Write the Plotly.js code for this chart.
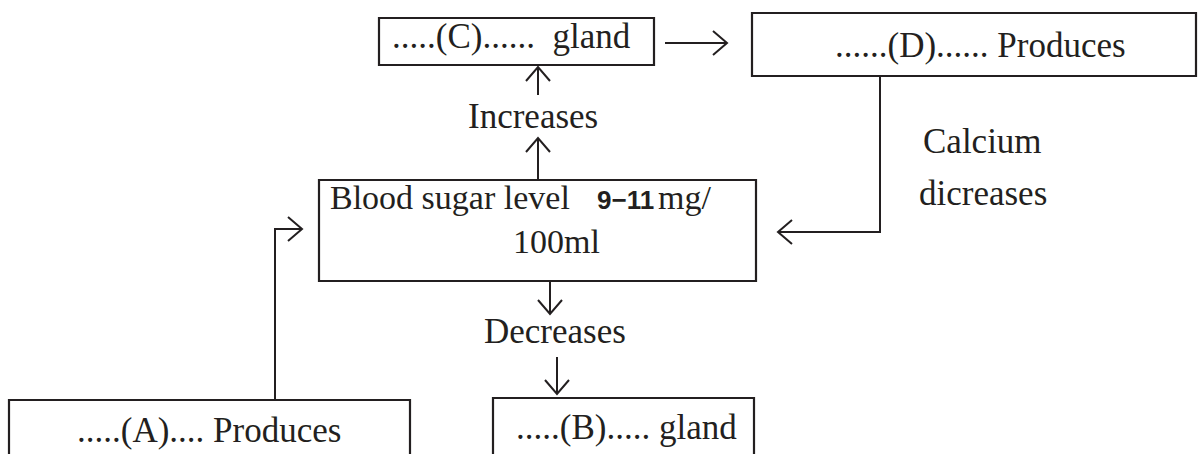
<!DOCTYPE html>
<html>
<head>
<meta charset="utf-8">
<script src="https://cdn.plot.ly/plotly-3.0.1.min.js"></script>
<style>html,body{margin:0;padding:0;background:#fff;}#chart{width:1198px;height:454px;}</style>
</head>
<body>
<div id="chart"></div>
<script>
// ---- content (text of the flow diagram) ----
var boxLabels = ['.....(C)......\u00a0 gland', '......(D)...... Produces', '.....(A).... Produces', '.....(B)..... gland'];
var bloodLabels = ['Blood sugar level', '9\u221211', 'mg/', '100ml'];
var arrowLabels = ['Increases', 'Decreases', 'Calcium', 'dicreases'];

// ---- geometry (pixel-space layout of the diagram) ----
var INK = '#231f20';
var SERIF = 'Liberation Serif, Times New Roman, serif';
var SANS = 'Liberation Sans, Arial, sans-serif';
var FS = 35;
var boxRects = [[379,18,654,65],[752,13,1196,76],[9,400,410,480],[493,398,754,480],[319,180,756,281]];
var boxTextPos = [[511,48],[980,57],[209,442],[626,439]];
var bloodTextPos = [[329,209,'left',SERIF,34],[596,209,'left',SANS,26],[657,209,'left',SERIF,34],[556,253,'center',SERIF,34]];
var arrowTextPos = [[533,128],[555,343],[982,153],[983,205]];
// connector polylines, last point is the arrow tip
var connectors = [
  [[665,43],[727,43]],
  [[880,76],[880,232],[778,232]],
  [[275,400],[275,229],[302,229]],
  [[538,180],[538,138]],
  [[538,95],[538,67]],
  [[550,281],[550,314]],
  [[557,357],[557,394]]
];

var shapes = [];
boxRects.forEach(function(r){
  shapes.push({type:'rect', xref:'x', yref:'y', x0:r[0], y0:r[1], x1:r[2], y1:r[3], line:{color:INK, width:2.2}, fillcolor:'rgba(0,0,0,0)'});
});
connectors.forEach(function(pts){
  var d = 'M' + pts.map(function(p){return p[0]+','+p[1];}).join(' L');
  shapes.push({type:'path', xref:'x', yref:'y', path:d, line:{color:INK, width:2}});
  var tip = pts[pts.length-1], prev = pts[pts.length-2];
  var dx = tip[0]-prev[0], dy = tip[1]-prev[1];
  var len = Math.sqrt(dx*dx+dy*dy); dx/=len; dy/=len;
  var back = 14, side = 12;
  var a1 = [tip[0]-dx*back - dy*side, tip[1]-dy*back + dx*side];
  var a2 = [tip[0]-dx*back + dy*side, tip[1]-dy*back - dx*side];
  shapes.push({type:'path', xref:'x', yref:'y', path:'M'+a1[0]+','+a1[1]+' L'+tip[0]+','+tip[1]+' L'+a2[0]+','+a2[1], line:{color:INK, width:2}});
});

function ann(text, x, baseline, anchor, family, size, bold){
  var asc = family === SANS ? 0.905 : 0.891, desc = family === SANS ? 0.212 : 0.216;
  return {text: bold ? '<b>'+text+'</b>' : text, x:x, y: baseline - (asc-desc)/2*size, xref:'x', yref:'y',
    xanchor:anchor, yanchor:'middle', showarrow:false, borderpad:0,
    font:{family:family, size:size, color:INK}};
}
var annotations = [];
boxLabels.forEach(function(t,i){ annotations.push(ann(t, boxTextPos[i][0], boxTextPos[i][1], 'center', SERIF, FS)); });
bloodLabels.forEach(function(t,i){ var p = bloodTextPos[i]; annotations.push(ann(t, p[0], p[1], p[2], p[3], p[4], p[3]===SANS)); });
arrowLabels.forEach(function(t,i){ annotations.push(ann(t, arrowTextPos[i][0], arrowTextPos[i][1], 'center', SERIF, FS)); });

var layout = {
  width:1198, height:454,
  margin:{l:0,r:0,t:0,b:0},
  paper_bgcolor:'#ffffff', plot_bgcolor:'#ffffff',
  xaxis:{range:[0,1198], visible:false, fixedrange:true},
  yaxis:{range:[454,0], visible:false, fixedrange:true},
  showlegend:false,
  shapes:shapes,
  annotations:annotations
};
Plotly.newPlot('chart', [{x:[], y:[], type:'scatter', mode:'lines', hoverinfo:'skip'}], layout, {displayModeBar:false, staticPlot:true});
</script>
</body>
</html>
